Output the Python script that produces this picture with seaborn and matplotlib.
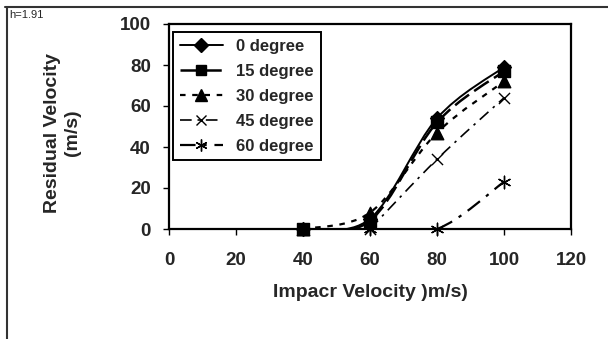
import numpy as np
import pandas as pd
import matplotlib
matplotlib.use("Agg")
import matplotlib.pyplot as plt
import seaborn as sns
from matplotlib.path import Path
from matplotlib.patches import PathPatch
from matplotlib.lines import Line2D

# ---- data ----
impact_velocity = [40, 60, 80, 100]
series_names = ["0 degree", "15 degree", "30 degree", "45 degree", "60 degree"]
deg0 = [0, 5, 54, 79]
deg15 = [0, 4, 52, 77]
deg30 = [0, 8, 47, 72]
deg45 = [np.nan, 0, 34, 64]
deg60 = [np.nan, 0, 0, 23]
x_ticks = [0, 20, 40, 60, 80, 100, 120]
y_ticks = [0, 20, 40, 60, 80, 100]

values = [deg0, deg15, deg30, deg45, deg60]

rows = []
for name, vals in zip(series_names, values):
    for xv, yv in zip(impact_velocity, vals):
        if not np.isnan(yv):
            rows.append({"series": name, "x": xv, "y": yv})
df = pd.DataFrame(rows)

sns.set_theme(style="white")
plt.rcParams["font.family"] = ["Liberation Sans", "DejaVu Sans"]

fig = plt.figure(figsize=(6.08, 3.39), dpi=100)
ax = fig.add_axes([169 / 608, 1 - 229 / 339, (571 - 169) / 608, (229 - 24) / 339])

styles = {
    "0 degree": dict(marker="D", dash=None, ms=7, lw=1.4),
    "15 degree": dict(marker="s", dash=(7, 2.5), ms=8, lw=1.8),
    "30 degree": dict(marker="^", dash=(2.5, 3), ms=9, lw=1.6),
    "45 degree": dict(marker="x", dash=(7, 3.5, 1.5, 3.5), ms=8, lw=1.2),
    "60 degree": dict(marker=(6, 2, 0), dash=(7, 3.5, 1.5, 3.5), ms=9, lw=1.6),
}


def smooth_path(xs, ys):
    pts = np.column_stack([xs, ys])
    verts = [pts[0]]
    codes = [Path.MOVETO]
    n = len(pts)
    for i in range(n - 1):
        p0 = pts[i - 1] if i > 0 else pts[i]
        p1 = pts[i]
        p2 = pts[i + 1]
        p3 = pts[i + 2] if i + 2 < n else pts[i + 1]
        c1 = p1 + (p2 - p0) / 6.0
        c2 = p2 - (p3 - p1) / 6.0
        verts += [c1, c2, p2]
        codes += [Path.CURVE4] * 3
    return Path(verts, codes)


handles = []
for name in series_names:
    st = styles[name]
    sub = df[df["series"] == name]
    path = smooth_path(sub["x"].to_numpy(float), sub["y"].to_numpy(float))
    ls = "-" if st["dash"] is None else (0, st["dash"])
    patch = PathPatch(path, fill=False, edgecolor="black", lw=st["lw"], linestyle=ls)
    ax.add_patch(patch)
    sns.scatterplot(
        data=sub, x="x", y="y", ax=ax, marker=st["marker"], color="black",
        s=st["ms"] ** 2, edgecolor="black", linewidth=1.0,
        clip_on=False, zorder=5, legend=False,
    )
    handles.append(Line2D([0], [0], color="black", lw=st["lw"], linestyle=ls,
                          marker=st["marker"], markersize=st["ms"] * 0.95,
                          markerfacecolor="black", markeredgecolor="black",
                          label=name))

ax.set_xlim(0, 120)
ax.set_ylim(0, 100)
ax.set_xticks(x_ticks)
ax.set_yticks(y_ticks)
ax.set_xticklabels([str(t) for t in x_ticks], fontsize=13.5, fontweight="bold")
ax.set_yticklabels([str(t) for t in y_ticks], fontsize=13.5, fontweight="bold")
ax.tick_params(axis="x", direction="out", length=4, width=1, color="black",
               bottom=True, pad=12.5)
ax.tick_params(axis="y", direction="out", length=4, width=1, color="black",
               left=True, pad=9)
for sp in ax.spines.values():
    sp.set_color("black")
    sp.set_linewidth(1.6)

ax.set_xlabel("Impacr Velocity )m/s)", fontsize=14, fontweight="bold", labelpad=11)
ax.set_ylabel("Residual Velocity\n(m/s)", fontsize=14, fontweight="bold")
ax.yaxis.set_label_coords(-88 / 402, 0.47)

leg = ax.legend(handles=handles, loc="upper left", bbox_to_anchor=(0.01, 0.961),
                borderaxespad=0,
                frameon=True, fancybox=False, framealpha=1, edgecolor="black",
                prop={"weight": "bold", "size": 12}, handlelength=2.6,
                borderpad=0.4, labelspacing=0.6, handletextpad=0.8)
leg.get_frame().set_linewidth(1.4)

# figure border fragments
fig.add_artist(Line2D([5 / 608, 1], [1 - 7 / 339, 1 - 7 / 339], transform=fig.transFigure,
                      color="#333333", lw=1.5))
fig.add_artist(Line2D([7 / 608, 7 / 608], [1 - 7 / 339, 0], transform=fig.transFigure,
                      color="#333333", lw=1.5))
fig.text(9 / 608, 1 - 15 / 339, "h=1.91", fontsize=8, va="center", ha="left")

fig.savefig("out.png", dpi=100)
